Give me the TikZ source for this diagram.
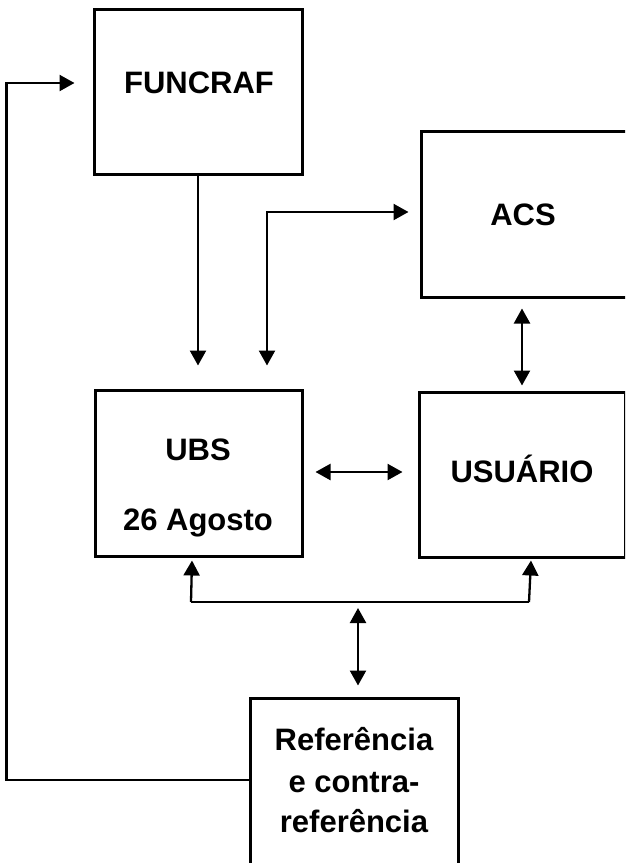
\documentclass[tikz,border=0pt]{standalone}
\usepackage{fontspec}
\setmainfont{Liberation Sans}
\usetikzlibrary{arrows.meta,calc}
\begin{document}
\begin{tikzpicture}[x=1pt,y=-1pt,
  box/.style={draw,line width=3pt,rectangle,inner sep=0pt},
  lbl/.style={font=\fontsize{31}{41}\selectfont\bfseries,anchor=base,inner sep=0pt},
  conn/.style={line width=2.3pt},
  arr/.style={conn,-{Triangle[length=15pt,width=16pt]}},
  darr/.style={conn,{Triangle[length=15pt,width=16pt]}-{Triangle[length=15pt,width=16pt]}}]
\useasboundingbox (0,0) rectangle (625,863);
\clip (0,0) rectangle (625,863);
% boxes
\node[box,minimum width=208pt,minimum height=165pt] (funcraf) at (198,91.5) {};
\node[box,minimum width=219pt,minimum height=166pt] (acs) at (530.5,214) {};
\node[box,minimum width=207pt,minimum height=166pt] (ubs) at (198.5,473) {};
\node[box,minimum width=206pt,minimum height=165pt] (usu) at (522,474.5) {};
\node[box,minimum width=208pt,minimum height=202pt] (ref) at (354,799) {};
% labels
\node[lbl] (tfun) at (199,93) {FUNCRAF};
\node[lbl] (tacs) at (523,225) {ACS};
\node[lbl] (tubs) at (198,460) {UBS};
\node[lbl] (tago) at (198,530) {26 Agosto};
\node[lbl] (tusu) at (522,482) {USUÁRIO};
\node[lbl] (tref1) at (354,750) {Referência};
\node[lbl] (tref2) at (354,792) {e contra-};
\node[lbl] (tref3) at (354,832) {referência};
% connectors
\draw[arr] (funcraf.south) -- ($(funcraf.south |- ubs.north)+(0,-23)$);
\draw[darr] ([xshift=68.5pt,yshift=23pt]ubs.north) |- ([xshift=-11pt,yshift=2pt]acs.west);
\draw[arr] ([yshift=19pt]ref.west) -| ([xshift=-86pt,yshift=8.5pt]funcraf.west) -- ([xshift=-18pt,yshift=8.5pt]funcraf.west);
\draw[darr] ([xshift=12pt,yshift=1pt]ubs.east) -- ([xshift=-15pt,yshift=1pt]ubs.east -| usu.west);
\draw[darr] ([yshift=-10pt]usu.north |- acs.south) -- ([yshift=5pt]usu.north);
\coordinate (bl) at (191,602);
\coordinate (br) at (529,602);
\coordinate (bm) at (358,602);
\draw[conn] (bl) -- (br);
\draw[arr] (bl) -- ([xshift=-6.5pt,yshift=-3pt]ubs.south);
\draw[arr] (br) -- ([xshift=9pt,yshift=-2pt]usu.south);
\draw[darr] ([yshift=-6pt]bm) -- ([xshift=4pt,yshift=11pt]ref.north);
\end{tikzpicture}
\end{document}
